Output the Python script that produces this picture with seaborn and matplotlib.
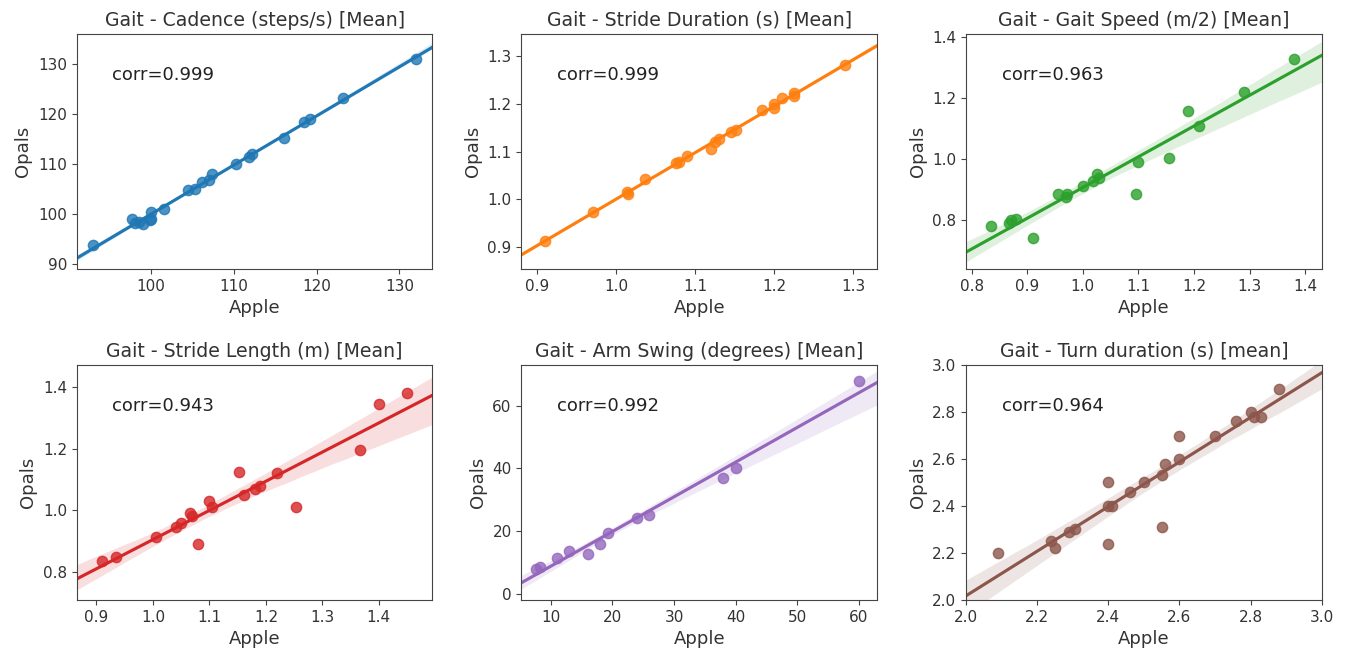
import matplotlib
matplotlib.use('Agg')
import matplotlib.pyplot as plt
import numpy as np
import pandas as pd
import seaborn as sns

titles = ['Gait - Cadence (steps/s) [Mean]', 'Gait - Stride Duration (s) [Mean]',
          'Gait - Gait Speed (m/2) [Mean]', 'Gait - Stride Length (m) [Mean]',
          'Gait - Arm Swing (degrees) [Mean]', 'Gait - Turn duration (s) [mean]']
corr_labels = ['corr=0.999', 'corr=0.999', 'corr=0.963', 'corr=0.943', 'corr=0.992', 'corr=0.964']

cadence_apple = [93, 97.7, 98, 98.5, 99, 99.8, 100, 100, 101.5, 104.5, 105.3, 106.2, 107, 107.3,
                 110.2, 111.8, 112.2, 116, 118.5, 119.2, 123.2, 132]
cadence_opals = [93.7, 99, 98.2, 98.3, 98, 98.8, 100.3, 99, 101, 104.8, 105, 106.3, 106.7, 108,
                 110, 111.5, 112, 115.3, 118.5, 119, 123.2, 131]

stride_dur_apple = [0.91, 0.97, 1.013, 1.015, 1.037, 1.075, 1.08, 1.09, 1.12, 1.125, 1.13, 1.145,
                    1.152, 1.185, 1.2, 1.2, 1.21, 1.225, 1.225, 1.29]
stride_dur_opals = [0.913, 0.973, 1.015, 1.012, 1.042, 1.075, 1.078, 1.09, 1.105, 1.12, 1.127, 1.14,
                    1.145, 1.187, 1.19, 1.2, 1.212, 1.215, 1.222, 1.28]

speed_apple = [0.835, 0.868, 0.87, 0.88, 0.91, 0.955, 0.97, 0.972, 1.0, 1.018, 1.025, 1.03,
               1.095, 1.1, 1.155, 1.19, 1.21, 1.29, 1.38]
speed_opals = [0.78, 0.79, 0.8, 0.805, 0.74, 0.885, 0.877, 0.885, 0.912, 0.928, 0.952, 0.938,
               0.887, 0.99, 1.005, 1.157, 1.11, 1.22, 1.328]

stride_len_apple = [0.91, 0.935, 1.005, 1.04, 1.05, 1.065, 1.07, 1.08, 1.1, 1.105, 1.153, 1.162,
                    1.18, 1.19, 1.22, 1.253, 1.367, 1.4, 1.45]
stride_len_opals = [0.835, 0.85, 0.915, 0.945, 0.96, 0.99, 0.98, 0.89, 1.03, 1.01, 1.125, 1.05,
                    1.07, 1.08, 1.12, 1.01, 1.195, 1.345, 1.38]

arm_apple = [7.5, 8.2, 11, 13, 16, 18, 19.3, 24, 26, 38, 40, 60]
arm_opals = [8, 8.5, 11.5, 13.5, 12.5, 16, 19.5, 24, 25, 37, 40, 68]

turn_apple = [2.09, 2.24, 2.25, 2.29, 2.305, 2.4, 2.4, 2.41, 2.4, 2.46, 2.5, 2.55, 2.56, 2.55,
              2.6, 2.6, 2.7, 2.76, 2.8, 2.81, 2.83, 2.88]
turn_opals = [2.2, 2.25, 2.22, 2.29, 2.3, 2.5, 2.4, 2.4, 2.24, 2.46, 2.5, 2.53, 2.58, 2.31,
              2.7, 2.6, 2.7, 2.76, 2.8, 2.78, 2.78, 2.9]

data = [(cadence_apple, cadence_opals), (stride_dur_apple, stride_dur_opals),
        (speed_apple, speed_opals), (stride_len_apple, stride_len_opals),
        (arm_apple, arm_opals), (turn_apple, turn_opals)]

xlims = [(91, 134), (0.88, 1.33), (0.79, 1.43), (0.865, 1.495), (5.2, 63), (2.0, 3.0)]
ylims = [(89, 136), (0.855, 1.345), (0.64, 1.41), (0.71, 1.47), (-2, 73), (2.0, 3.0)]
xticks = [[100, 110, 120, 130], [0.9, 1.0, 1.1, 1.2, 1.3], [0.8, 0.9, 1.0, 1.1, 1.2, 1.3, 1.4],
          [0.9, 1.0, 1.1, 1.2, 1.3, 1.4], [10, 20, 30, 40, 50, 60], [2.0, 2.2, 2.4, 2.6, 2.8, 3.0]]
yticks = [[90, 100, 110, 120, 130], [0.9, 1.0, 1.1, 1.2, 1.3], [0.8, 1.0, 1.2, 1.4],
          [0.8, 1.0, 1.2, 1.4], [0, 20, 40, 60], [2.0, 2.2, 2.4, 2.6, 2.8, 3.0]]

colors = sns.color_palette('tab10', 6)

fig, axes = plt.subplots(2, 3, figsize=(13.46, 6.57), dpi=100)
plt.subplots_adjust(left=0.057, right=0.982, top=0.948, bottom=0.087, wspace=0.25, hspace=0.41)

for i, ax in enumerate(axes.flat):
    df = pd.DataFrame({'Apple': data[i][0], 'Opals': data[i][1]})
    ax.set_xlim(xlims[i])
    ax.set_ylim(ylims[i])
    sns.regplot(data=df, x='Apple', y='Opals', ax=ax, color=colors[i], truncate=False,
                scatter_kws={'s': 55})
    ax.set_xlim(xlims[i])
    ax.set_ylim(ylims[i])
    ax.set_xticks(xticks[i])
    ax.set_yticks(yticks[i])
    ax.set_title(titles[i], fontsize=13.6, color='#333333')
    ax.set_xlabel('Apple', fontsize=13, color='#333333')
    ax.set_ylabel('Opals', fontsize=13, color='#333333')
    ax.tick_params(labelsize=11, labelcolor='#333333', color='#444444')
    for s in ax.spines.values():
        s.set_color('#444444')
    ax.text(0.1, 0.825, corr_labels[i], transform=ax.transAxes, fontsize=13, va='center',
            color='#222222')

plt.savefig('out.png', dpi=100)
